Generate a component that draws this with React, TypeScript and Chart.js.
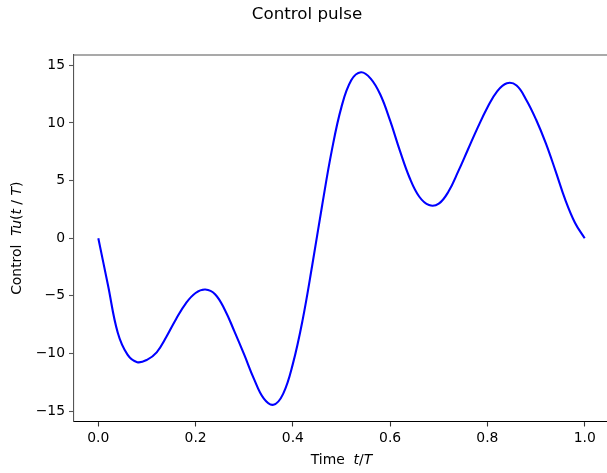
import React, { useEffect, useRef } from "react";
import { Chart, registerables } from "chart.js";

Chart.register(...registerables);

const timeValues = [0, 0.02, 0.04, 0.06, 0.08, 0.1, 0.12, 0.14, 0.16, 0.18, 0.2, 0.22, 0.24, 0.26, 0.28, 0.3, 0.32, 0.34, 0.36, 0.38, 0.4, 0.42, 0.44, 0.46, 0.48, 0.5, 0.52, 0.54, 0.56, 0.58, 0.6, 0.62, 0.64, 0.66, 0.68, 0.7, 0.72, 0.74, 0.76, 0.78, 0.8, 0.82, 0.84, 0.86, 0.88, 0.9, 0.92, 0.94, 0.96, 0.98, 1.0];
const controlValues = [0, -4.1, -8.2, -10.1, -10.75, -10.55, -9.9, -8.55, -7.0, -5.65, -4.75, -4.45, -4.85, -6.2, -8.1, -10.1, -12.2, -13.9, -14.45, -13.5, -10.9, -7.1, -2.3, 2.8, 7.6, 11.4, 13.7, 14.4, 13.85, 12.45, 10.2, 7.6, 5.25, 3.6, 2.88, 3.0, 4.05, 5.8, 7.7, 9.6, 11.35, 12.75, 13.45, 13.25, 12.0, 10.3, 8.25, 5.85, 3.35, 1.35, 0];
const xTickValues = [0, 0.2, 0.4, 0.6, 0.8, 1.0];
const yTickValues = [-15, -10, -5, 0, 5, 10, 15];
const titleText = "Control pulse";

const FONT = "DejaVu Sans";

function drawParts(ctx: CanvasRenderingContext2D, parts: [string, boolean][], size: number) {
  let total = 0;
  for (const [s, it] of parts) {
    ctx.font = `${it ? "italic " : ""}${size}px "${FONT}"`;
    total += ctx.measureText(s).width;
  }
  let x = -total / 2;
  for (const [s, it] of parts) {
    ctx.font = `${it ? "italic " : ""}${size}px "${FONT}"`;
    ctx.fillText(s, x, 0);
    x += ctx.measureText(s).width;
  }
}

const decorPlugin = {
  id: "decor",
  afterDraw(chart: any) {
    const ctx = chart.ctx as CanvasRenderingContext2D;
    const a = chart.chartArea;
    ctx.save();
    ctx.strokeStyle = "#555555";
    ctx.lineWidth = 1.1;
    ctx.beginPath();
    ctx.moveTo(a.left - 0.5, a.top);
    ctx.lineTo(a.right, a.top);
    ctx.stroke();
    ctx.fillStyle = "#000";
    ctx.textBaseline = "alphabetic";
    ctx.textAlign = "left";
    ctx.save();
    ctx.translate(307, 19);
    drawParts(ctx, [[titleText, false]], 16.7);
    ctx.restore();
    ctx.save();
    ctx.translate((a.left + a.right) / 2, 464);
    drawParts(ctx, [["Time  ", false], ["t", true], ["/", false], ["T", true]], 13.9);
    ctx.restore();
    ctx.save();
    ctx.translate(21, (a.top + a.bottom) / 2);
    ctx.rotate(-Math.PI / 2);
    drawParts(ctx, [["Control  ", false], ["Tu", true], ["(", false], ["t", true], [" / ", false], ["T", true], [")", false]], 13.9);
    ctx.restore();
    ctx.restore();
  },
};

export default function App() {
  const ref = useRef<HTMLCanvasElement>(null);
  useEffect(() => {
    document.body.style.margin = "0";
    const data = timeValues.map((t, i) => ({ x: t, y: controlValues[i] }));
    const chart = new Chart(ref.current!, {
      type: "scatter",
      data: {
        datasets: [
          {
            data,
            showLine: true,
            borderColor: "#0000ff",
            backgroundColor: "#0000ff",
            borderWidth: 2.1,
            pointRadius: 0,
            tension: 0.4,
          } as any,
        ],
      },
      options: {
        animation: false,
        responsive: false,
        maintainAspectRatio: false,
        layout: { padding: { top: 55, right: 3, left: 0, bottom: 0 } },
        plugins: { legend: { display: false }, tooltip: { enabled: false }, title: { display: false } },
        scales: {
          x: {
            type: "linear",
            min: -0.05,
            max: 1.05,
            afterBuildTicks: (s: any) => {
              s.ticks = xTickValues.map((v) => ({ value: v }));
            },
            afterFit: (s: any) => {
              s.height = 51.5;
            },
            grid: { display: true, drawOnChartArea: false, drawTicks: true, tickLength: 5, tickColor: "#333", tickWidth: 1.1 },
            border: { display: true, color: "#000", width: 1.1 },
            ticks: {
              color: "#000",
              padding: 4,
              maxRotation: 0,
              autoSkip: false,
              font: { family: FONT, size: 13.9 },
              callback: (v: any) => Number(v).toFixed(1),
            },
          },
          y: {
            type: "linear",
            min: -15.9,
            max: 15.9,
            afterBuildTicks: (s: any) => {
              s.ticks = yTickValues.map((v) => ({ value: v }));
            },
            afterFit: (s: any) => {
              s.width = 74;
            },
            grid: { display: true, drawOnChartArea: false, drawTicks: true, tickLength: 5, tickColor: "#555", tickWidth: 1.1 },
            border: { display: true, color: "#555", width: 1.1 },
            ticks: {
              color: "#000",
              padding: 4,
              autoSkip: false,
              font: { family: FONT, size: 13.9 },
              callback: (v: any) => {
                const n = Number(v);
                return n < 0 ? "\u2212" + Math.abs(n) : String(n);
              },
            },
          },
        },
      },
      plugins: [decorPlugin],
    });
    return () => chart.destroy();
  }, []);
  return (
    <div style={{ position: "fixed", left: 0, top: 0, width: 607, height: 473, overflow: "hidden", background: "#fff" }}>
      <canvas ref={ref} width={612} height={473} style={{ display: "block", width: 612, height: 473 }} />
    </div>
  );
}
